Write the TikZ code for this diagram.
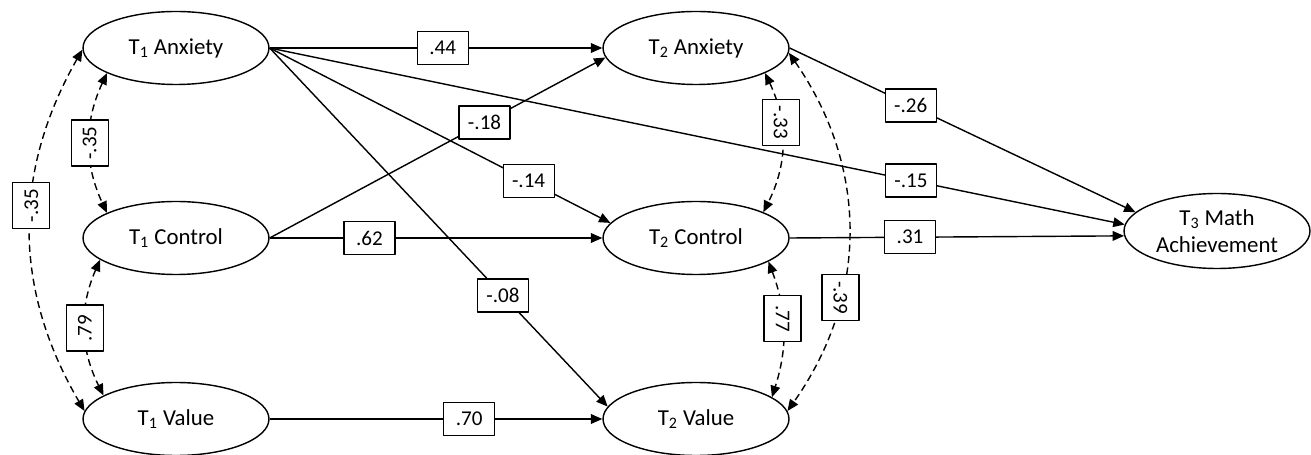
\documentclass[tikz,border=0pt]{standalone}
\usepackage{fontspec}
\setmainfont{Carlito}
\usetikzlibrary{shapes.geometric,arrows.meta}

\begin{document}
\begin{tikzpicture}[x=0.02cm, y=0.02cm, font=\fontsize{13}{15.5}\selectfont, line join=round, >={Triangle[length=6.5pt,width=5.5pt]}]
	\tikzset{latent/.style={draw, ellipse, line width=0.8pt, minimum width=3.72cm, minimum height=1.46cm, inner sep=0pt, align=center},
		coef/.style={draw, solid, fill=white, line width=0.7pt, minimum width=1.02cm, minimum height=0.66cm, inner sep=0pt, font=\fontsize{12}{14}\selectfont},
		vcoef/.style={coef, rotate=90, minimum width=0.92cm, minimum height=0.74cm},
		vcoefr/.style={coef, rotate=-90, minimum width=0.92cm, minimum height=0.74cm},
		effect/.style={->, line width=0.8pt},
		cov/.style={<->, line width=0.8pt, dash pattern=on 4pt off 2.5pt}}
	\useasboundingbox (0,0) rectangle (1311,-455);
	% latent variables
	\node[latent] (t1a) at (176,-48) {T\textsubscript{1} Anxiety};
	\node[latent] (t1c) at (176,-238) {T\textsubscript{1} Control};
	\node[latent] (t1v) at (176,-419) {T\textsubscript{1} Value};
	\node[latent] (t2a) at (696,-48) {T\textsubscript{2} Anxiety};
	\node[latent] (t2c) at (696,-238) {T\textsubscript{2} Control};
	\node[latent] (t2v) at (696,-419) {T\textsubscript{2} Value};
	\node[latent, minimum height=1.5cm] (t3) at (1217,-231) {T\textsubscript{3} Math\\Achievement};
	% paths
	\draw[effect] (t1a.east) -- node[coef,pos=0.52] (c44) {.44} (t2a.west);
	\draw[effect] (t1a.east) -- node[coef,pos=0.76] (c14) {-.14} (t2c.170);
	\draw[effect] (t1a.east) -- node[coef,pos=0.69] (c08) {-.08} (t2v.172);
	\draw[effect] (t1a.east) -- node[coef,pos=0.75] (c15) {-.15} (t3.176);
	\draw[effect] (t1c.east) -- node[coef,pos=0.64] (c18) {-.18} (t2a.186);
	\draw[effect] (t1c.east) -- node[coef,pos=0.30] (c62) {.62} (t2c.west);
	\draw[effect] (t1v.east) -- node[coef,pos=0.60] (c70) {.70} (t2v.west);
	\draw[effect] (t2a.east) -- node[coef,pos=0.35] (c26) {-.26} (t3.167);
	\draw[effect] (t2c.east) -- node[coef,pos=0.36] (c31) {.31} (t3.183);
	% covariances
	\draw[cov] (t1a.200) to[bend right=25] node[vcoef] (r1) {-.35} (t1c.160);
	\draw[cov] (t1c.196) to[bend right=25] node[vcoef] (r2) {.79} (t1v.162);
	\draw[cov] (t1a.181) to[bend right=30] node[vcoef,pos=0.43] (r3) {-.35} (t1v.175);
	\draw[cov] (t2a.340) to[bend left=26] node[vcoefr,pos=0.35] (r4) {-.33} (t2c.21);
	\draw[cov] (t2c.342) to[bend left=19] node[vcoefr,pos=0.42] (r5) {.77} (t2v.16);
	\draw[cov] (t2a.357) to[bend left=35] node[vcoefr,pos=0.68] (r6) {-.39} (t2v.5);
\end{tikzpicture}
\end{document}
